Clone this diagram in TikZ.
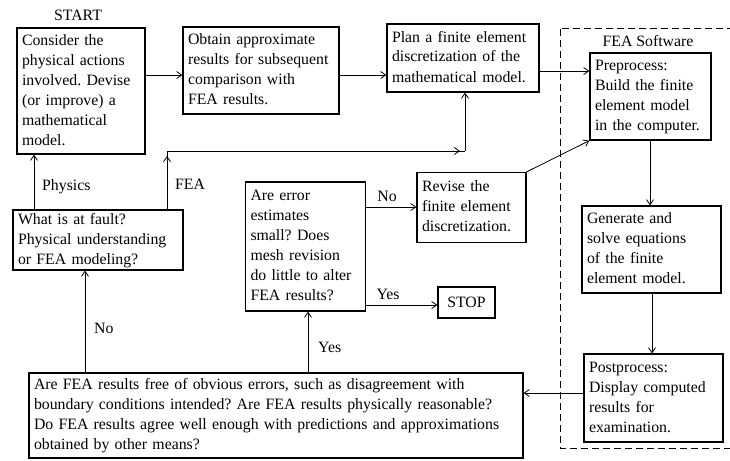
\documentclass[tikz,border=0pt]{standalone}
\usepackage{fontspec}
\setmainfont{Liberation Serif}
\usetikzlibrary{arrows.meta,calc}
\newcommand{\lines}[1]{\begin{tabular}{@{}l@{}}#1\end{tabular}}
\frenchspacing
\begin{document}
\begin{tikzpicture}[x=1pt,y=-1pt,
  box/.style={draw,line width=1.3pt,inner xsep=5pt,inner ysep=0pt,align=left,
    font=\fontsize{15.8}{20}\selectfont},
  lbl/.style={font=\fontsize{15.8}{20}\selectfont,inner sep=0pt},
  arr/.style={line width=0.8pt,-{Straight Barb[length=5pt,width=7pt]}},
  ln/.style={line width=0.8pt}]
\useasboundingbox (0,0) rectangle (730,460);
\clip (0,0) rectangle (730,460);
% FEA software region
\draw[line width=1pt,dash pattern=on 7pt off 4pt] (560,29) rectangle (745,448);
\node[lbl] (sw) at (648,41) {FEA Software};
\node[lbl] (start) at (78,15) {START};
% boxes
\node[box,text width=118pt,minimum height=126pt] (consider) at (81,91)
  {\lines{Consider the\\physical actions\\involved. Devise\\(or improve) a\\mathematical\\model.}};
\node[box,text width=146pt,minimum height=87pt] (obtain) at (261,70.5)
  {\lines{Obtain approximate\\results for subsequent\\comparison with\\FEA results.}};
\node[box,text width=142pt,minimum height=68pt] (plan) at (463,58)
  {\lines{Plan a finite element\\discretization of the\\mathematical model.}};
\node[box,text width=111pt,minimum height=87pt] (pre) at (650.5,96.5)
  {\lines{Preprocess:\\Build the finite\\element model\\in the computer.}};
\node[box,text width=129pt,minimum height=87pt] (gen) at (651.5,249.5)
  {\lines{Generate and\\solve equations\\of the finite\\element model.}};
\node[box,text width=129pt,minimum height=88pt] (post) at (653.5,398)
  {\lines{Postprocess:\\Display computed\\results for\\examination.}};
\node[box,text width=160pt,minimum height=60pt] (fault) at (98,240)
  {\lines{What is at fault?\\Physical understanding\\or FEA modeling?}};
\node[box,text width=110pt,minimum height=129pt] (err) at (305.5,246.5)
  {\lines{Are error\\estimates\\small? Does\\mesh revision\\do little to alter\\FEA results?}};
\node[box,text width=99pt,minimum height=70pt] (rev) at (471.5,207.5)
  {\lines{Revise the\\finite element\\discretization.}};
\node[box,inner xsep=0pt,minimum width=57pt,minimum height=31pt] (stop) at (466.5,302.5) {STOP};
\node[box,text width=484pt,minimum height=85pt] (bot) at (276,415.5)
  {\lines{Are FEA results free of obvious errors, such as disagreement with\\boundary conditions intended? Are FEA results physically reasonable?\\Do FEA results agree well enough with predictions and approximations\\obtained by other means?}};
% junction coordinates for the FEA path
\coordinate (j1) at (167,151);
\coordinate (j2) at (465,151);
% connectors
\draw[arr] (consider.east |- 0,75) -- (obtain.west |- 0,75);
\draw[arr] (obtain.east |- 0,75) -- (plan.west |- 0,75);
\draw[arr] (plan.east |- 0,71) -- (pre.west |- 0,71);
\draw[arr] (pre.south -| 650,0) -- (gen.north -| 650,0);
\draw[arr] (gen.south -| 652,0) -- (post.north -| 652,0);
\draw[arr] (post.west |- 0,393) -- (bot.east |- 0,393);
\draw[arr] (bot.north -| 85,0) -- (fault.south -| 85,0);
\node[lbl,anchor=west] (no1) at (94,328) {No};
\draw[arr] (bot.north -| 308,0) -- (err.south -| 308,0);
\node[lbl,anchor=west] (yes1) at (318,347) {Yes};
\draw[arr] (fault.north -| 34,0) -- (consider.south -| 34,0);
\node[lbl,anchor=west] (phys) at (42,187) {Physics};
\draw[ln] (fault.north -| 167,0) -- (j1);
\draw[arr] (fault.north -| 167,0) -- ($(j1)+(0,5)$);
\draw[ln] (j1) -- (j2);
\draw[arr] (j1) -- ($(j2)+(-5,0)$);
\draw[arr] (j2) -- (plan.south -| 465,0);
\node[lbl,anchor=west] (fea) at (175,184) {FEA};
\draw[arr] (err.east |- 0,207) -- (rev.west |- 0,207);
\node[lbl] (no2) at (387,196) {No};
\draw[arr] (err.east |- 0,305) -- (stop.west |- 0,305);
\node[lbl] (yes2) at (388,294) {Yes};
\draw[arr] (rev.north east) -- (pre.south west);
\end{tikzpicture}
\end{document}
